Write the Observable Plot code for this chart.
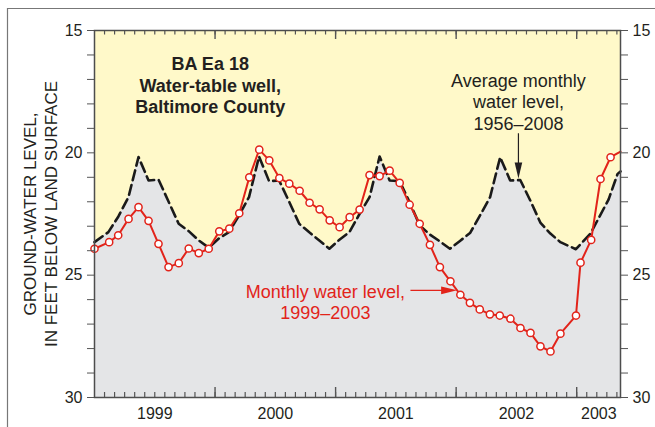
<!DOCTYPE html>
<html><head><meta charset="utf-8">
<script src="https://cdn.jsdelivr.net/npm/d3@7"></script>
<script src="https://cdn.jsdelivr.net/npm/@observablehq/plot@0.6"></script>
<style>html,body{margin:0;padding:0;background:#fff} svg{display:block}</style>
</head><body><div id="chart"></div>
<script>
// Months since the start of 1999 (left edge of plot)
const avgMonths = [0, 1.38, 2.38, 3.38, 4.38, 5.38, 6.38, 7.38, 8.38, 9.38, 10.38, 11.38,
  12.38, 13.38, 14.38, 15.38, 16.38, 17.38, 18.38, 19.38, 20.38, 21.38, 22.38, 23.38,
  24.38, 25.38, 26.38, 27.38, 28.38, 29.38, 30.38, 31.38, 32.38, 33.38, 34.38, 35.38,
  36.38, 37.38, 38.38, 39.38, 40.38, 41.38, 42.38, 43.38, 44.38, 45.38, 46.38,
  47.92, 49.37, 51.18, 52.07, 52.36];
const avgLevels = [23.65, 23.24, 22.6, 21.81, 20.17, 21.13, 21.10, 22.0, 22.9, 23.2, 23.58, 23.88,
  23.5, 23.24, 22.56, 21.81, 20.15, 21.16, 21.13, 22.0, 22.9, 23.25, 23.58, 23.92,
  23.55, 23.24, 22.5, 21.81, 20.15, 21.13, 21.16, 22.03, 22.97, 23.34, 23.62, 23.92,
  23.6, 23.28, 22.56, 21.81, 20.18, 21.13, 21.11, 21.95, 22.85, 23.3, 23.65,
  23.94, 23.3, 21.9, 20.86, 20.76];
const obsMonths = [0.00, 1.46, 2.36, 3.39, 4.38, 5.38, 6.37, 7.37, 8.39, 9.38, 10.38, 11.37,
  12.42, 13.42, 14.41, 15.41, 16.40, 17.40, 18.40, 19.39, 20.42, 21.41, 22.41, 23.41,
  24.40, 25.40, 26.39, 27.38, 28.38, 29.38, 30.38, 31.37, 32.37, 33.39, 34.38, 35.43,
  36.42, 37.37, 38.35, 39.36, 40.34, 41.40, 42.40, 43.40, 44.39, 45.39, 46.38, 47.93,
  48.38, 49.44, 50.37, 51.37, 52.36];
const obsLevels = [23.92, 23.65, 23.37, 22.70, 22.22, 22.78, 23.72, 24.67, 24.51, 23.91, 24.10, 23.92,
  23.21, 23.10, 22.47, 21.00, 19.87, 20.31, 21.03, 21.26, 21.55, 22.04, 22.31, 22.76,
  23.04, 22.63, 22.32, 20.91, 20.95, 20.73, 21.23, 22.12, 22.90, 23.76, 24.67, 25.25,
  25.80, 26.13, 26.40, 26.60, 26.65, 26.78, 27.16, 27.36, 27.91, 28.12, 27.39, 26.65,
  24.49, 23.56, 21.07, 20.18, 19.95];
const yearLabels = ["1999", "2000", "2001", "2002", "2003"];
const yearLabelMonths = [6, 18, 30, 42, 50.2];
const yearBoundaries = [12, 24, 36, 48];
const levelTicks = [15, 16, 17, 18, 19, 20, 21, 22, 23, 24, 25, 26, 27, 28, 29, 30];
const levelLabels = [15, 20, 25, 30];

const avg = avgMonths.map((m, i) => ({m, level: avgLevels[i]}));
const obs = obsMonths.map((m, i) => ({m, level: obsLevels[i]}));
const obsDots = obs.slice(0, obs.length - 1);
const monthTicks = d3.range(1, 53);

const RED = "#e2231a", YELLOW = "#fff9c9", GRAY = "#e4e5e7", INK = "#231f20", TICK = "#555";
const innerH = 427 - 30 - 30;
const arrowHead = {draw(ctx) { ctx.moveTo(0, 0); ctx.lineTo(-3.8, -16); ctx.lineTo(3.8, -16); ctx.closePath(); }};

const chart = Plot.plot({
  width: 655, height: 427,
  marginTop: 30, marginBottom: 30, marginLeft: 94, marginRight: 35,
  style: {fontFamily: "'Liberation Sans', Arial, Helvetica, sans-serif", fontSize: "16px", color: INK, background: "#fff"},
  x: {domain: [0, 52.36], axis: null},
  y: {domain: [15, 30], reverse: true, axis: null},
  marks: [
    Plot.frame({fill: YELLOW, stroke: null}),
    Plot.areaY(avg, {x: "m", y1: 30, y2: "level", fill: GRAY}),
    Plot.line(avg, {x: "m", y: "level", stroke: "#1a1a1a", strokeWidth: 2.6, strokeDasharray: "10,5"}),
    Plot.line(obs, {x: "m", y: "level", stroke: RED, strokeWidth: 2}),
    Plot.dot(obsDots, {x: "m", y: "level", r: 3.6, fill: "#fff", stroke: RED, strokeWidth: 1.5}),
    // x ticks (inside, top and bottom)
    Plot.tickX(monthTicks, {x: d => d, insetTop: innerH - 5, stroke: TICK, strokeWidth: 1.2}),
    Plot.tickX(monthTicks, {x: d => d, insetBottom: innerH - 4.5, stroke: TICK, strokeWidth: 1.2}),
    Plot.tickX(yearBoundaries, {x: d => d, insetTop: innerH - 10, stroke: TICK, strokeWidth: 1.4}),
    Plot.tickX(yearBoundaries, {x: d => d, insetBottom: innerH - 9, stroke: TICK, strokeWidth: 1.4}),
    Plot.text(yearLabelMonths, {x: d => d, text: (d, i) => yearLabels[i], frameAnchor: "bottom", dy: 21, fontSize: 16, fill: INK}),
    // y axes
    Plot.axisY(levelTicks, {anchor: "left", tickSize: 7, tickPadding: 5, tickFormat: d => levelLabels.includes(d) ? String(d) : "", fontSize: 16, stroke: TICK, fill: INK, label: null}),
    Plot.axisY(levelTicks, {anchor: "right", tickSize: 7, tickPadding: 5, tickFormat: d => levelLabels.includes(d) ? String(d) : "", fontSize: 16, stroke: TICK, fill: INK, label: null}),
    Plot.frame({stroke: "#4d4d4d", strokeWidth: 1.5}),
    // outer figure border (left and top)
    Plot.ruleX([0], {x: d => d, dx: -87, insetTop: -22, insetBottom: -40, stroke: "#777", strokeWidth: 1.2}),
    Plot.ruleY([15], {y: d => d, dy: -22, insetLeft: -87, insetRight: -40, stroke: "#777", strokeWidth: 1.2}),
    // y axis title
    Plot.text([0], {frameAnchor: "left", textAnchor: "middle", dx: -55, rotate: -90, text: () => "GROUND-WATER LEVEL,\nIN FEET BELOW LAND SURFACE", fontSize: 17, lineHeight: 1.24, fill: INK}),
    // annotations
    Plot.text([{m: 11.52, level: 17.22}], {x: "m", y: "level", text: () => "BA Ea 18\nWater-table well,\nBaltimore County", fontSize: 18, fontWeight: "bold", lineHeight: 1.2, fill: INK}),
    Plot.text([{m: 42.2, level: 17.9}], {x: "m", y: "level", text: () => "Average monthly\nwater level,\n1956\u20132008", fontSize: 18, lineHeight: 1.2, fill: INK}),
    Plot.ruleX([{m: 42.2, a: 19.22, b: 20.6}], {x: "m", y1: "a", y2: "b", stroke: INK, strokeWidth: 1.2}),
    Plot.dot([{m: 42.2, level: 21.05}], {x: "m", y: "level", symbol: arrowHead, fill: INK, stroke: null}),
    Plot.text([{m: 22.98, level: 26.1}], {x: "m", y: "level", text: () => "Monthly water level,\n1999\u20132003", fontSize: 18, lineHeight: 1.17, fill: RED}),
    Plot.link([{a: 31.45, b: 34.6, level: 25.62}], {x1: "a", x2: "b", y1: "level", y2: "level", stroke: RED, strokeWidth: 1.3}),
    Plot.dot([{m: 36.1, level: 25.62}], {x: "m", y: "level", symbol: arrowHead, rotate: -90, fill: RED, stroke: null})
  ]
});
document.getElementById("chart").appendChild(chart);
</script>
</body></html>
